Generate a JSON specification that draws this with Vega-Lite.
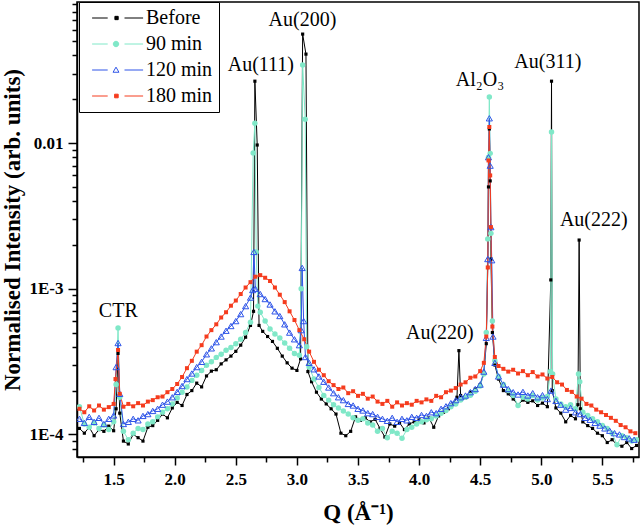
{
"$schema":"https://vega.github.io/schema/vega-lite/v6.json",
"width":562,"height":455,
"autosize":{"type":"none"},
"padding":{"left":77,"top":2,"right":1,"bottom":70},
"background":"white",
"config":{
"font":"Liberation Serif",
"view":{"stroke":"black","strokeWidth":1.5},
"axis":{"grid":false,"domainColor":"black","domainWidth":1.5,"tickColor":"black","tickWidth":1.5,"labelColor":"black","labelFont":"Liberation Serif","labelFontSize":17,"labelFontWeight":"bold","titleFont":"Liberation Serif","titleFontSize":23,"titleFontWeight":"bold","titleColor":"black"}
},
"datasets":{
"series":[
{"s":"Before","q":1.22,"i":1.10e-4},{"s":"Before","q":1.26,"i":1.02e-4},{"s":"Before","q":1.30,"i":1.12e-4},{"s":"Before","q":1.34,"i":0.98e-4},{"s":"Before","q":1.38,"i":1.08e-4},{"s":"Before","q":1.42,"i":1.05e-4},{"s":"Before","q":1.46,"i":1.14e-4},{"s":"Before","q":1.50,"i":1.06e-4},{"s":"Before","q":1.52,"i":1.5e-4},{"s":"Before","q":1.536,"i":3.6e-4},{"s":"Before","q":1.55,"i":1.4e-4},{"s":"Before","q":1.58,"i":0.90e-4},{"s":"Before","q":1.62,"i":0.86e-4},{"s":"Before","q":1.66,"i":1.00e-4},{"s":"Before","q":1.70,"i":0.95e-4},{"s":"Before","q":1.74,"i":0.90e-4},{"s":"Before","q":1.78,"i":1.12e-4},{"s":"Before","q":1.82,"i":1.15e-4},{"s":"Before","q":1.86,"i":1.25e-4},{"s":"Before","q":1.90,"i":1.38e-4},{"s":"Before","q":1.94,"i":1.30e-4},{"s":"Before","q":1.98,"i":1.52e-4},{"s":"Before","q":2.02,"i":1.66e-4},{"s":"Before","q":2.06,"i":1.58e-4},{"s":"Before","q":2.10,"i":1.88e-4},{"s":"Before","q":2.14,"i":2.00e-4},{"s":"Before","q":2.18,"i":2.25e-4},{"s":"Before","q":2.22,"i":2.12e-4},{"s":"Before","q":2.26,"i":2.52e-4},{"s":"Before","q":2.30,"i":2.72e-4},{"s":"Before","q":2.34,"i":2.78e-4},{"s":"Before","q":2.38,"i":3.05e-4},{"s":"Before","q":2.42,"i":3.25e-4},{"s":"Before","q":2.46,"i":3.45e-4},{"s":"Before","q":2.50,"i":3.72e-4},{"s":"Before","q":2.54,"i":4.10e-4},{"s":"Before","q":2.58,"i":4.65e-4},{"s":"Before","q":2.62,"i":5.6e-4},{"s":"Before","q":2.645,"i":7.0e-4},{"s":"Before","q":2.656,"i":2.66e-2},{"s":"Before","q":2.675,"i":9.7e-3},{"s":"Before","q":2.69,"i":5.6e-4},{"s":"Before","q":2.72,"i":5.1e-4},{"s":"Before","q":2.76,"i":4.7e-4},{"s":"Before","q":2.80,"i":4.35e-4},{"s":"Before","q":2.84,"i":3.9e-4},{"s":"Before","q":2.88,"i":3.45e-4},{"s":"Before","q":2.92,"i":3.1e-4},{"s":"Before","q":2.96,"i":2.85e-4},{"s":"Before","q":3.00,"i":2.75e-4},{"s":"Before","q":3.03,"i":3.3e-4},{"s":"Before","q":3.047,"i":5.6e-2},{"s":"Before","q":3.074,"i":4.08e-2},{"s":"Before","q":3.09,"i":2.7e-4},{"s":"Before","q":3.12,"i":2.3e-4},{"s":"Before","q":3.16,"i":1.95e-4},{"s":"Before","q":3.20,"i":1.75e-4},{"s":"Before","q":3.24,"i":1.62e-4},{"s":"Before","q":3.28,"i":1.50e-4},{"s":"Before","q":3.32,"i":1.38e-4},{"s":"Before","q":3.36,"i":1.02e-4},{"s":"Before","q":3.40,"i":0.98e-4},{"s":"Before","q":3.44,"i":1.05e-4},{"s":"Before","q":3.48,"i":1.32e-4},{"s":"Before","q":3.52,"i":1.25e-4},{"s":"Before","q":3.56,"i":1.30e-4},{"s":"Before","q":3.60,"i":1.22e-4},{"s":"Before","q":3.64,"i":1.27e-4},{"s":"Before","q":3.68,"i":1.10e-4},{"s":"Before","q":3.72,"i":0.96e-4},{"s":"Before","q":3.76,"i":1.18e-4},{"s":"Before","q":3.80,"i":1.14e-4},{"s":"Before","q":3.84,"i":1.20e-4},{"s":"Before","q":3.88,"i":1.08e-4},{"s":"Before","q":3.92,"i":1.18e-4},{"s":"Before","q":3.96,"i":1.22e-4},{"s":"Before","q":4.00,"i":1.26e-4},{"s":"Before","q":4.04,"i":1.20e-4},{"s":"Before","q":4.08,"i":1.30e-4},{"s":"Before","q":4.12,"i":1.12e-4},{"s":"Before","q":4.16,"i":1.34e-4},{"s":"Before","q":4.20,"i":1.42e-4},{"s":"Before","q":4.24,"i":1.50e-4},{"s":"Before","q":4.28,"i":1.62e-4},{"s":"Before","q":4.31,"i":1.80e-4},{"s":"Before","q":4.326,"i":3.76e-4},{"s":"Before","q":4.34,"i":1.85e-4},{"s":"Before","q":4.38,"i":1.78e-4},{"s":"Before","q":4.42,"i":1.95e-4},{"s":"Before","q":4.46,"i":2.05e-4},{"s":"Before","q":4.50,"i":2.2e-4},{"s":"Before","q":4.53,"i":2.6e-4},{"s":"Before","q":4.55,"i":4.2e-4},{"s":"Before","q":4.562,"i":1.4e-3},{"s":"Before","q":4.568,"i":5.0e-3},{"s":"Before","q":4.575,"i":1.25e-2},{"s":"Before","q":4.582,"i":5.5e-3},{"s":"Before","q":4.588,"i":1.6e-3},{"s":"Before","q":4.60,"i":5.0e-4},{"s":"Before","q":4.62,"i":3.0e-4},{"s":"Before","q":4.65,"i":2.4e-4},{"s":"Before","q":4.69,"i":2.0e-4},{"s":"Before","q":4.73,"i":1.9e-4},{"s":"Before","q":4.77,"i":1.75e-4},{"s":"Before","q":4.81,"i":1.60e-4},{"s":"Before","q":4.85,"i":1.72e-4},{"s":"Before","q":4.89,"i":1.66e-4},{"s":"Before","q":4.93,"i":1.70e-4},{"s":"Before","q":4.97,"i":1.58e-4},{"s":"Before","q":5.01,"i":1.64e-4},{"s":"Before","q":5.05,"i":1.55e-4},{"s":"Before","q":5.078,"i":1.15e-3},{"s":"Before","q":5.084,"i":2.66e-2},{"s":"Before","q":5.09,"i":2.0e-4},{"s":"Before","q":5.12,"i":1.52e-4},{"s":"Before","q":5.16,"i":1.40e-4},{"s":"Before","q":5.20,"i":1.22e-4},{"s":"Before","q":5.24,"i":1.35e-4},{"s":"Before","q":5.28,"i":1.28e-4},{"s":"Before","q":5.30,"i":1.6e-4},{"s":"Before","q":5.31,"i":2.16e-3},{"s":"Before","q":5.32,"i":1.5e-4},{"s":"Before","q":5.34,"i":1.22e-4},{"s":"Before","q":5.38,"i":1.15e-4},{"s":"Before","q":5.42,"i":1.10e-4},{"s":"Before","q":5.46,"i":1.02e-4},{"s":"Before","q":5.50,"i":0.98e-4},{"s":"Before","q":5.54,"i":0.88e-4},{"s":"Before","q":5.58,"i":0.92e-4},{"s":"Before","q":5.62,"i":0.85e-4},{"s":"Before","q":5.66,"i":0.83e-4},{"s":"Before","q":5.70,"i":0.88e-4},{"s":"Before","q":5.74,"i":0.80e-4},{"s":"Before","q":5.78,"i":0.84e-4},
{"s":"90 min","q":1.22,"i":1.55e-4},{"s":"90 min","q":1.26,"i":1.18e-4},{"s":"90 min","q":1.30,"i":1.12e-4},{"s":"90 min","q":1.34,"i":1.20e-4},{"s":"90 min","q":1.38,"i":1.10e-4},{"s":"90 min","q":1.42,"i":1.16e-4},{"s":"90 min","q":1.46,"i":1.08e-4},{"s":"90 min","q":1.50,"i":1.22e-4},{"s":"90 min","q":1.52,"i":2.2e-4},{"s":"90 min","q":1.536,"i":5.38e-4},{"s":"90 min","q":1.55,"i":1.8e-4},{"s":"90 min","q":1.58,"i":1.05e-4},{"s":"90 min","q":1.62,"i":0.92e-4},{"s":"90 min","q":1.66,"i":1.02e-4},{"s":"90 min","q":1.70,"i":1.10e-4},{"s":"90 min","q":1.74,"i":1.08e-4},{"s":"90 min","q":1.78,"i":1.18e-4},{"s":"90 min","q":1.82,"i":1.22e-4},{"s":"90 min","q":1.86,"i":1.32e-4},{"s":"90 min","q":1.90,"i":1.42e-4},{"s":"90 min","q":1.94,"i":1.50e-4},{"s":"90 min","q":1.98,"i":1.62e-4},{"s":"90 min","q":2.02,"i":1.78e-4},{"s":"90 min","q":2.06,"i":1.95e-4},{"s":"90 min","q":2.10,"i":2.12e-4},{"s":"90 min","q":2.14,"i":2.35e-4},{"s":"90 min","q":2.18,"i":2.55e-4},{"s":"90 min","q":2.22,"i":2.75e-4},{"s":"90 min","q":2.26,"i":2.98e-4},{"s":"90 min","q":2.30,"i":3.15e-4},{"s":"90 min","q":2.34,"i":3.38e-4},{"s":"90 min","q":2.38,"i":3.55e-4},{"s":"90 min","q":2.42,"i":3.78e-4},{"s":"90 min","q":2.46,"i":3.95e-4},{"s":"90 min","q":2.50,"i":4.2e-4},{"s":"90 min","q":2.54,"i":4.5e-4},{"s":"90 min","q":2.58,"i":5.0e-4},{"s":"90 min","q":2.62,"i":5.9e-4},{"s":"90 min","q":2.642,"i":8.54e-3},{"s":"90 min","q":2.656,"i":1.37e-2},{"s":"90 min","q":2.667,"i":1.79e-3},{"s":"90 min","q":2.68,"i":7.6e-4},{"s":"90 min","q":2.70,"i":6.9e-4},{"s":"90 min","q":2.74,"i":6.0e-4},{"s":"90 min","q":2.78,"i":5.3e-4},{"s":"90 min","q":2.82,"i":4.9e-4},{"s":"90 min","q":2.86,"i":4.6e-4},{"s":"90 min","q":2.90,"i":4.25e-4},{"s":"90 min","q":2.94,"i":3.9e-4},{"s":"90 min","q":2.98,"i":3.6e-4},{"s":"90 min","q":3.02,"i":3.5e-4},{"s":"90 min","q":3.035,"i":1.0e-3},{"s":"90 min","q":3.047,"i":3.43e-2},{"s":"90 min","q":3.068,"i":1.46e-2},{"s":"90 min","q":3.08,"i":4.0e-4},{"s":"90 min","q":3.10,"i":2.9e-4},{"s":"90 min","q":3.14,"i":2.4e-4},{"s":"90 min","q":3.18,"i":2.1e-4},{"s":"90 min","q":3.22,"i":1.85e-4},{"s":"90 min","q":3.26,"i":1.72e-4},{"s":"90 min","q":3.30,"i":1.60e-4},{"s":"90 min","q":3.34,"i":1.52e-4},{"s":"90 min","q":3.38,"i":1.45e-4},{"s":"90 min","q":3.42,"i":1.38e-4},{"s":"90 min","q":3.46,"i":1.30e-4},{"s":"90 min","q":3.50,"i":1.25e-4},{"s":"90 min","q":3.54,"i":1.28e-4},{"s":"90 min","q":3.58,"i":1.20e-4},{"s":"90 min","q":3.62,"i":1.16e-4},{"s":"90 min","q":3.66,"i":1.05e-4},{"s":"90 min","q":3.70,"i":1.10e-4},{"s":"90 min","q":3.74,"i":0.95e-4},{"s":"90 min","q":3.78,"i":1.05e-4},{"s":"90 min","q":3.82,"i":1.02e-4},{"s":"90 min","q":3.86,"i":0.94e-4},{"s":"90 min","q":3.90,"i":1.08e-4},{"s":"90 min","q":3.94,"i":1.12e-4},{"s":"90 min","q":3.98,"i":1.18e-4},{"s":"90 min","q":4.02,"i":1.22e-4},{"s":"90 min","q":4.06,"i":1.26e-4},{"s":"90 min","q":4.10,"i":1.28e-4},{"s":"90 min","q":4.14,"i":1.34e-4},{"s":"90 min","q":4.18,"i":1.40e-4},{"s":"90 min","q":4.22,"i":1.46e-4},{"s":"90 min","q":4.26,"i":1.55e-4},{"s":"90 min","q":4.30,"i":1.62e-4},{"s":"90 min","q":4.34,"i":1.72e-4},{"s":"90 min","q":4.38,"i":1.80e-4},{"s":"90 min","q":4.42,"i":1.86e-4},{"s":"90 min","q":4.46,"i":1.98e-4},{"s":"90 min","q":4.50,"i":2.15e-4},{"s":"90 min","q":4.53,"i":2.6e-4},{"s":"90 min","q":4.55,"i":5.0e-4},{"s":"90 min","q":4.562,"i":2.2e-3},{"s":"90 min","q":4.568,"i":8.0e-3},{"s":"90 min","q":4.575,"i":2.07e-2},{"s":"90 min","q":4.582,"i":8.5e-3},{"s":"90 min","q":4.588,"i":2.4e-3},{"s":"90 min","q":4.60,"i":6.0e-4},{"s":"90 min","q":4.62,"i":3.2e-4},{"s":"90 min","q":4.65,"i":2.5e-4},{"s":"90 min","q":4.69,"i":2.2e-4},{"s":"90 min","q":4.73,"i":2.0e-4},{"s":"90 min","q":4.77,"i":1.85e-4},{"s":"90 min","q":4.81,"i":1.58e-4},{"s":"90 min","q":4.85,"i":1.80e-4},{"s":"90 min","q":4.89,"i":1.75e-4},{"s":"90 min","q":4.93,"i":1.85e-4},{"s":"90 min","q":4.97,"i":1.72e-4},{"s":"90 min","q":5.01,"i":1.78e-4},{"s":"90 min","q":5.05,"i":1.82e-4},{"s":"90 min","q":5.075,"i":2.7e-4},{"s":"90 min","q":5.084,"i":1.19e-2},{"s":"90 min","q":5.093,"i":2.6e-4},{"s":"90 min","q":5.12,"i":1.75e-4},{"s":"90 min","q":5.16,"i":1.62e-4},{"s":"90 min","q":5.20,"i":1.55e-4},{"s":"90 min","q":5.24,"i":1.60e-4},{"s":"90 min","q":5.28,"i":1.50e-4},{"s":"90 min","q":5.305,"i":2.6e-4},{"s":"90 min","q":5.315,"i":2.3e-4},{"s":"90 min","q":5.34,"i":1.42e-4},{"s":"90 min","q":5.38,"i":1.35e-4},{"s":"90 min","q":5.42,"i":1.28e-4},{"s":"90 min","q":5.46,"i":1.22e-4},{"s":"90 min","q":5.50,"i":1.15e-4},{"s":"90 min","q":5.54,"i":1.10e-4},{"s":"90 min","q":5.58,"i":1.02e-4},{"s":"90 min","q":5.62,"i":0.85e-4},{"s":"90 min","q":5.66,"i":0.98e-4},{"s":"90 min","q":5.70,"i":0.95e-4},{"s":"90 min","q":5.74,"i":0.90e-4},{"s":"90 min","q":5.78,"i":0.92e-4},
{"s":"120 min","q":1.22,"i":1.28e-4},{"s":"120 min","q":1.26,"i":1.20e-4},{"s":"120 min","q":1.30,"i":1.32e-4},{"s":"120 min","q":1.34,"i":1.22e-4},{"s":"120 min","q":1.38,"i":1.30e-4},{"s":"120 min","q":1.42,"i":1.18e-4},{"s":"120 min","q":1.46,"i":1.28e-4},{"s":"120 min","q":1.50,"i":1.35e-4},{"s":"120 min","q":1.52,"i":2.9e-4},{"s":"120 min","q":1.536,"i":4.24e-4},{"s":"120 min","q":1.55,"i":1.9e-4},{"s":"120 min","q":1.58,"i":1.18e-4},{"s":"120 min","q":1.62,"i":1.22e-4},{"s":"120 min","q":1.66,"i":1.28e-4},{"s":"120 min","q":1.70,"i":1.25e-4},{"s":"120 min","q":1.74,"i":1.34e-4},{"s":"120 min","q":1.78,"i":1.38e-4},{"s":"120 min","q":1.82,"i":1.45e-4},{"s":"120 min","q":1.86,"i":1.50e-4},{"s":"120 min","q":1.90,"i":1.60e-4},{"s":"120 min","q":1.94,"i":1.68e-4},{"s":"120 min","q":1.98,"i":1.80e-4},{"s":"120 min","q":2.02,"i":1.96e-4},{"s":"120 min","q":2.06,"i":2.15e-4},{"s":"120 min","q":2.10,"i":2.40e-4},{"s":"120 min","q":2.14,"i":2.62e-4},{"s":"120 min","q":2.18,"i":2.90e-4},{"s":"120 min","q":2.22,"i":3.15e-4},{"s":"120 min","q":2.26,"i":3.55e-4},{"s":"120 min","q":2.30,"i":3.90e-4},{"s":"120 min","q":2.34,"i":4.30e-4},{"s":"120 min","q":2.38,"i":4.70e-4},{"s":"120 min","q":2.42,"i":5.15e-4},{"s":"120 min","q":2.46,"i":5.55e-4},{"s":"120 min","q":2.50,"i":6.0e-4},{"s":"120 min","q":2.54,"i":6.7e-4},{"s":"120 min","q":2.58,"i":7.6e-4},{"s":"120 min","q":2.62,"i":8.7e-4},{"s":"120 min","q":2.638,"i":9.8e-4},{"s":"120 min","q":2.648,"i":1.79e-3},{"s":"120 min","q":2.66,"i":1.00e-3},{"s":"120 min","q":2.70,"i":9.2e-4},{"s":"120 min","q":2.74,"i":8.5e-4},{"s":"120 min","q":2.78,"i":7.8e-4},{"s":"120 min","q":2.82,"i":7.0e-4},{"s":"120 min","q":2.86,"i":6.5e-4},{"s":"120 min","q":2.90,"i":5.7e-4},{"s":"120 min","q":2.94,"i":5.0e-4},{"s":"120 min","q":2.98,"i":4.5e-4},{"s":"120 min","q":3.02,"i":4.1e-4},{"s":"120 min","q":3.035,"i":5.2e-4},{"s":"120 min","q":3.043,"i":1.39e-3},{"s":"120 min","q":3.055,"i":6.0e-4},{"s":"120 min","q":3.07,"i":3.4e-4},{"s":"120 min","q":3.10,"i":3.1e-4},{"s":"120 min","q":3.14,"i":2.8e-4},{"s":"120 min","q":3.18,"i":2.5e-4},{"s":"120 min","q":3.22,"i":2.3e-4},{"s":"120 min","q":3.26,"i":2.1e-4},{"s":"120 min","q":3.30,"i":1.92e-4},{"s":"120 min","q":3.34,"i":1.80e-4},{"s":"120 min","q":3.38,"i":1.72e-4},{"s":"120 min","q":3.42,"i":1.62e-4},{"s":"120 min","q":3.46,"i":1.58e-4},{"s":"120 min","q":3.50,"i":1.50e-4},{"s":"120 min","q":3.54,"i":1.46e-4},{"s":"120 min","q":3.58,"i":1.40e-4},{"s":"120 min","q":3.62,"i":1.38e-4},{"s":"120 min","q":3.66,"i":1.32e-4},{"s":"120 min","q":3.70,"i":1.28e-4},{"s":"120 min","q":3.74,"i":1.24e-4},{"s":"120 min","q":3.78,"i":1.30e-4},{"s":"120 min","q":3.82,"i":1.22e-4},{"s":"120 min","q":3.86,"i":1.28e-4},{"s":"120 min","q":3.90,"i":1.25e-4},{"s":"120 min","q":3.94,"i":1.32e-4},{"s":"120 min","q":3.98,"i":1.30e-4},{"s":"120 min","q":4.02,"i":1.36e-4},{"s":"120 min","q":4.06,"i":1.34e-4},{"s":"120 min","q":4.10,"i":1.42e-4},{"s":"120 min","q":4.14,"i":1.40e-4},{"s":"120 min","q":4.18,"i":1.50e-4},{"s":"120 min","q":4.22,"i":1.56e-4},{"s":"120 min","q":4.26,"i":1.64e-4},{"s":"120 min","q":4.30,"i":1.72e-4},{"s":"120 min","q":4.34,"i":1.80e-4},{"s":"120 min","q":4.38,"i":1.85e-4},{"s":"120 min","q":4.42,"i":1.95e-4},{"s":"120 min","q":4.46,"i":2.05e-4},{"s":"120 min","q":4.50,"i":2.2e-4},{"s":"120 min","q":4.53,"i":2.7e-4},{"s":"120 min","q":4.55,"i":4.6e-4},{"s":"120 min","q":4.562,"i":1.6e-3},{"s":"120 min","q":4.568,"i":8.0e-3},{"s":"120 min","q":4.575,"i":1.48e-2},{"s":"120 min","q":4.582,"i":7.0e-3},{"s":"120 min","q":4.588,"i":2.65e-3},{"s":"120 min","q":4.595,"i":1.57e-3},{"s":"120 min","q":4.605,"i":4.7e-4},{"s":"120 min","q":4.62,"i":3.1e-4},{"s":"120 min","q":4.65,"i":2.5e-4},{"s":"120 min","q":4.69,"i":2.2e-4},{"s":"120 min","q":4.73,"i":2.05e-4},{"s":"120 min","q":4.77,"i":1.95e-4},{"s":"120 min","q":4.81,"i":1.88e-4},{"s":"120 min","q":4.85,"i":1.96e-4},{"s":"120 min","q":4.89,"i":1.85e-4},{"s":"120 min","q":4.93,"i":1.92e-4},{"s":"120 min","q":4.97,"i":1.80e-4},{"s":"120 min","q":5.01,"i":1.86e-4},{"s":"120 min","q":5.05,"i":1.75e-4},{"s":"120 min","q":5.08,"i":2.0e-4},{"s":"120 min","q":5.12,"i":1.70e-4},{"s":"120 min","q":5.16,"i":1.60e-4},{"s":"120 min","q":5.20,"i":1.48e-4},{"s":"120 min","q":5.24,"i":1.52e-4},{"s":"120 min","q":5.28,"i":1.42e-4},{"s":"120 min","q":5.32,"i":1.38e-4},{"s":"120 min","q":5.36,"i":1.30e-4},{"s":"120 min","q":5.40,"i":1.26e-4},{"s":"120 min","q":5.44,"i":1.20e-4},{"s":"120 min","q":5.48,"i":1.15e-4},{"s":"120 min","q":5.52,"i":1.10e-4},{"s":"120 min","q":5.56,"i":1.06e-4},{"s":"120 min","q":5.60,"i":1.02e-4},{"s":"120 min","q":5.64,"i":1.00e-4},{"s":"120 min","q":5.68,"i":0.96e-4},{"s":"120 min","q":5.72,"i":0.94e-4},{"s":"120 min","q":5.76,"i":0.92e-4},
{"s":"180 min","q":1.22,"i":1.50e-4},{"s":"180 min","q":1.26,"i":1.42e-4},{"s":"180 min","q":1.30,"i":1.56e-4},{"s":"180 min","q":1.34,"i":1.46e-4},{"s":"180 min","q":1.38,"i":1.58e-4},{"s":"180 min","q":1.42,"i":1.48e-4},{"s":"180 min","q":1.46,"i":1.54e-4},{"s":"180 min","q":1.50,"i":1.62e-4},{"s":"180 min","q":1.515,"i":2.4e-4},{"s":"180 min","q":1.536,"i":3.8e-4},{"s":"180 min","q":1.55,"i":1.9e-4},{"s":"180 min","q":1.58,"i":1.55e-4},{"s":"180 min","q":1.62,"i":1.62e-4},{"s":"180 min","q":1.66,"i":1.56e-4},{"s":"180 min","q":1.70,"i":1.64e-4},{"s":"180 min","q":1.74,"i":1.58e-4},{"s":"180 min","q":1.78,"i":1.68e-4},{"s":"180 min","q":1.82,"i":1.72e-4},{"s":"180 min","q":1.86,"i":1.80e-4},{"s":"180 min","q":1.90,"i":1.82e-4},{"s":"180 min","q":1.94,"i":1.95e-4},{"s":"180 min","q":1.98,"i":2.05e-4},{"s":"180 min","q":2.02,"i":2.22e-4},{"s":"180 min","q":2.06,"i":2.48e-4},{"s":"180 min","q":2.10,"i":2.85e-4},{"s":"180 min","q":2.14,"i":3.20e-4},{"s":"180 min","q":2.18,"i":3.70e-4},{"s":"180 min","q":2.22,"i":4.10e-4},{"s":"180 min","q":2.26,"i":4.70e-4},{"s":"180 min","q":2.30,"i":5.20e-4},{"s":"180 min","q":2.34,"i":5.70e-4},{"s":"180 min","q":2.38,"i":6.35e-4},{"s":"180 min","q":2.42,"i":6.90e-4},{"s":"180 min","q":2.46,"i":7.65e-4},{"s":"180 min","q":2.50,"i":8.3e-4},{"s":"180 min","q":2.54,"i":9.2e-4},{"s":"180 min","q":2.58,"i":1.02e-3},{"s":"180 min","q":2.62,"i":1.11e-3},{"s":"180 min","q":2.66,"i":1.21e-3},{"s":"180 min","q":2.70,"i":1.24e-3},{"s":"180 min","q":2.74,"i":1.19e-3},{"s":"180 min","q":2.78,"i":1.13e-3},{"s":"180 min","q":2.82,"i":1.02e-3},{"s":"180 min","q":2.86,"i":9.1e-4},{"s":"180 min","q":2.90,"i":8.1e-4},{"s":"180 min","q":2.94,"i":7.0e-4},{"s":"180 min","q":2.98,"i":6.1e-4},{"s":"180 min","q":3.02,"i":5.2e-4},{"s":"180 min","q":3.06,"i":4.5e-4},{"s":"180 min","q":3.10,"i":3.7e-4},{"s":"180 min","q":3.14,"i":3.15e-4},{"s":"180 min","q":3.18,"i":2.78e-4},{"s":"180 min","q":3.22,"i":2.55e-4},{"s":"180 min","q":3.26,"i":2.32e-4},{"s":"180 min","q":3.30,"i":2.18e-4},{"s":"180 min","q":3.34,"i":2.05e-4},{"s":"180 min","q":3.38,"i":2.10e-4},{"s":"180 min","q":3.42,"i":1.92e-4},{"s":"180 min","q":3.46,"i":1.98e-4},{"s":"180 min","q":3.50,"i":1.84e-4},{"s":"180 min","q":3.54,"i":1.90e-4},{"s":"180 min","q":3.58,"i":1.76e-4},{"s":"180 min","q":3.62,"i":1.82e-4},{"s":"180 min","q":3.66,"i":1.68e-4},{"s":"180 min","q":3.70,"i":1.62e-4},{"s":"180 min","q":3.74,"i":1.70e-4},{"s":"180 min","q":3.78,"i":1.55e-4},{"s":"180 min","q":3.82,"i":1.66e-4},{"s":"180 min","q":3.86,"i":1.58e-4},{"s":"180 min","q":3.90,"i":1.64e-4},{"s":"180 min","q":3.94,"i":1.60e-4},{"s":"180 min","q":3.98,"i":1.70e-4},{"s":"180 min","q":4.02,"i":1.66e-4},{"s":"180 min","q":4.06,"i":1.74e-4},{"s":"180 min","q":4.10,"i":1.70e-4},{"s":"180 min","q":4.14,"i":1.84e-4},{"s":"180 min","q":4.18,"i":1.80e-4},{"s":"180 min","q":4.22,"i":1.95e-4},{"s":"180 min","q":4.26,"i":2.00e-4},{"s":"180 min","q":4.30,"i":2.08e-4},{"s":"180 min","q":4.34,"i":2.20e-4},{"s":"180 min","q":4.38,"i":2.28e-4},{"s":"180 min","q":4.42,"i":2.45e-4},{"s":"180 min","q":4.46,"i":2.50e-4},{"s":"180 min","q":4.50,"i":2.72e-4},{"s":"180 min","q":4.53,"i":3.1e-4},{"s":"180 min","q":4.55,"i":4.7e-4},{"s":"180 min","q":4.562,"i":1.4e-3},{"s":"180 min","q":4.568,"i":7.6e-3},{"s":"180 min","q":4.575,"i":1.29e-2},{"s":"180 min","q":4.582,"i":6.0e-3},{"s":"180 min","q":4.588,"i":2.65e-3},{"s":"180 min","q":4.60,"i":5.5e-4},{"s":"180 min","q":4.62,"i":3.4e-4},{"s":"180 min","q":4.65,"i":2.95e-4},{"s":"180 min","q":4.69,"i":2.82e-4},{"s":"180 min","q":4.73,"i":2.70e-4},{"s":"180 min","q":4.77,"i":2.78e-4},{"s":"180 min","q":4.81,"i":2.62e-4},{"s":"180 min","q":4.85,"i":2.72e-4},{"s":"180 min","q":4.89,"i":2.55e-4},{"s":"180 min","q":4.93,"i":2.68e-4},{"s":"180 min","q":4.97,"i":2.50e-4},{"s":"180 min","q":5.01,"i":2.58e-4},{"s":"180 min","q":5.05,"i":2.42e-4},{"s":"180 min","q":5.09,"i":2.48e-4},{"s":"180 min","q":5.13,"i":2.28e-4},{"s":"180 min","q":5.17,"i":2.20e-4},{"s":"180 min","q":5.21,"i":2.02e-4},{"s":"180 min","q":5.25,"i":1.96e-4},{"s":"180 min","q":5.29,"i":1.82e-4},{"s":"180 min","q":5.33,"i":1.76e-4},{"s":"180 min","q":5.37,"i":1.62e-4},{"s":"180 min","q":5.41,"i":1.58e-4},{"s":"180 min","q":5.45,"i":1.48e-4},{"s":"180 min","q":5.49,"i":1.42e-4},{"s":"180 min","q":5.53,"i":1.36e-4},{"s":"180 min","q":5.57,"i":1.30e-4},{"s":"180 min","q":5.61,"i":1.24e-4},{"s":"180 min","q":5.65,"i":1.16e-4},{"s":"180 min","q":5.69,"i":1.12e-4},{"s":"180 min","q":5.73,"i":1.05e-4},{"s":"180 min","q":5.77,"i":1.02e-4}
],
"labels":[
{"t":"Au(111)","q":2.705,"i":0.0343},
{"t":"Au(200)","q":3.045,"i":0.0698},
{"t":"CTR","q":1.538,"i":0.000703},
{"t":"Al₂O₃","q":4.498,"i":0.0271},
{"t":"Au(311)","q":5.054,"i":0.0360},
{"t":"Au(222)","q":5.43,"i":0.00296},
{"t":"Au(220)","q":4.17,"i":0.000497}
]
},
"layer":[
{"data":{"name":"series"},
"mark":{"type":"line","strokeWidth":1,"clip":true},
"encoding":{
"x":{"field":"q","type":"quantitative","scale":{"domain":[1.2,5.8],"nice":false,"zero":false},"axis":{"title":"Q (Å⁻¹)","values":[1.5,2,2.5,3,3.5,4,4.5,5,5.5],"format":".1f","tickSize":8,"labelPadding":6,"titlePadding":14,"labelFlush":false}},
"y":{"field":"i","type":"quantitative","scale":{"type":"log","domain":[0.00007,0.093],"nice":false},"axis":{"title":"Normalised Intensity (arb. units)","values":[0.0001,0.001,0.01],"labelExpr":"datum.value > 0.005 ? '0.01' : datum.value > 0.0005 ? '1E-3' : '1E-4'","tickSize":9,"labelPadding":5,"titlePadding":5}},
"color":{"field":"s","type":"nominal","scale":{"domain":["Before","90 min","120 min","180 min"],"range":["#000000","#80e8c8","#2f55e8","#f53c1e"]},
"legend":{"title":null,"orient":"none","legendX":2,"legendY":0,"strokeColor":"black","fillColor":"white","padding":6,"labelFont":"Liberation Serif","labelFontSize":20,"labelColor":"black","labelOffset":0,"symbolSize":3600,"symbolStrokeWidth":1,"clipHeight":20,"rowPadding":6,
"encode":{"symbols":{"update":{
"shape":{"signal":"datum.value === '90 min' ? 'M-0.78,0H-0.26M0.3,0H0.92M-0.073,0A0.09,0.09 0 1,0 0.107,0A0.09,0.09 0 1,0 -0.073,0Z' : datum.value === '120 min' ? 'M-0.78,0H-0.26M0.3,0H0.92M0.017,-0.095L0.115,0.075L-0.081,0.075Z' : datum.value === '180 min' ? 'M-0.78,0H-0.26M0.3,0H0.92M-0.03,-0.06H0.09V0.06H-0.03Z' : 'M-0.78,0H-0.26M0.3,0H0.92M-0.02,-0.055H0.09V0.055H-0.02Z'"},
"size":{"value":3600},
"stroke":{"signal":"scale('color', datum.value)"},
"fill":{"signal":"datum.value === '120 min' ? 'transparent' : scale('color', datum.value)"},
"strokeWidth":{"value":1},
"opacity":{"value":1}
}},"legend":{"update":{"strokeWidth":{"value":1}}}}}}
}},
{"data":{"name":"series"},"transform":[{"filter":"datum.s === 'Before'"}],
"mark":{"type":"point","shape":"square","size":10,"filled":true,"color":"#000000","opacity":1,"clip":true},
"encoding":{"x":{"field":"q","type":"quantitative","axis":null},"y":{"field":"i","type":"quantitative","axis":null}}},
{"data":{"name":"series"},"transform":[{"filter":"datum.s === '90 min'"}],
"mark":{"type":"point","shape":"circle","size":30,"filled":true,"color":"#80e8c8","opacity":1,"clip":true},
"encoding":{"x":{"field":"q","type":"quantitative","axis":null},"y":{"field":"i","type":"quantitative","axis":null}}},
{"data":{"name":"series"},"transform":[{"filter":"datum.s === '120 min'"}],
"mark":{"type":"point","shape":"triangle-up","size":38,"filled":false,"color":"#2f55e8","strokeWidth":1,"opacity":1,"clip":true},
"encoding":{"x":{"field":"q","type":"quantitative","axis":null},"y":{"field":"i","type":"quantitative","axis":null}}},
{"data":{"name":"series"},"transform":[{"filter":"datum.s === '180 min'"}],
"mark":{"type":"point","shape":"square","size":16,"filled":true,"color":"#f53c1e","opacity":1,"clip":true},
"encoding":{"x":{"field":"q","type":"quantitative","axis":null},"y":{"field":"i","type":"quantitative","axis":null}}},
{"data":{"name":"labels"},
"mark":{"type":"text","font":"Liberation Serif","fontSize":20,"color":"black","align":"center","baseline":"middle"},
"encoding":{
"x":{"field":"q","type":"quantitative","axis":{"values":[1.25,1.75,2.25,2.75,3.25,3.75,4.25,4.75,5.25,5.75],"labels":false,"domain":false,"title":null,"tickSize":5,"orient":"bottom"}},
"y":{"field":"i","type":"quantitative","axis":{"values":[0.00008,0.00009,0.0002,0.0003,0.0004,0.0005,0.0006,0.0007,0.0008,0.0009,0.002,0.003,0.004,0.005,0.006,0.007,0.008,0.009,0.02,0.03,0.04,0.05,0.06,0.07,0.08,0.09],"labels":false,"domain":false,"title":null,"tickSize":5,"orient":"left"}},
"text":{"field":"t"}
}}
],
"resolve":{"axis":{"x":"independent","y":"independent"}}
}
